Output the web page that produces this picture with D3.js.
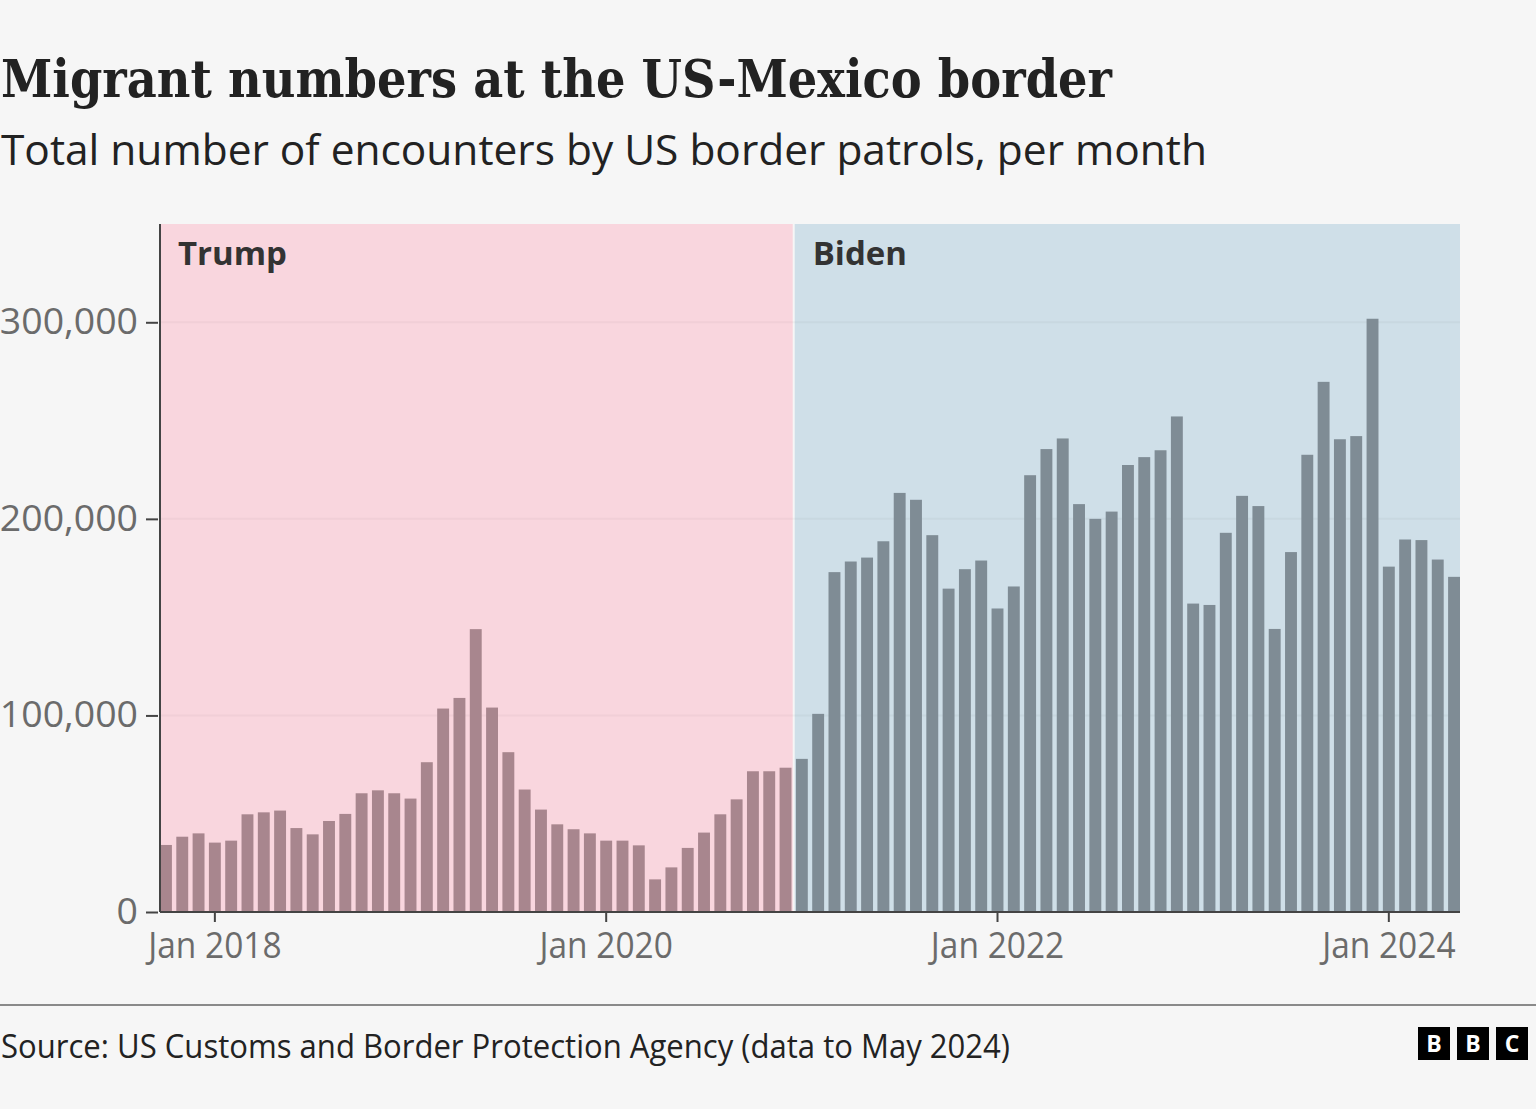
<!DOCTYPE html>
<html>
<head>
<meta charset="utf-8">
<script src="https://cdn.jsdelivr.net/npm/d3@7"></script>
<style>
  html, body { margin: 0; padding: 0; background: #f6f6f6; }
  svg { display: block; }
</style>
</head>
<body>
<svg id="chart" width="1536" height="1109"></svg>
<script>
// monthly encounters, Oct 2017 - May 2024
const months = d3.timeMonth.range(new Date(2017, 9, 1), new Date(2024, 5, 1));
const encounters = [
  34100, 38300, 40000,
  35300, 36300, 49700, 50700, 51600, 42700, 39500, 46300, 49900, 60400, 61900, 60400,
  57700, 76200, 103500, 108900, 143900, 104000, 81300, 62300, 52100, 44600, 42100, 40000,
  36300, 36300, 33900, 16600, 22700, 32600, 40400, 49700, 57300, 71600, 71600, 73400,
  77900, 100800, 172900, 178300, 180300, 188600, 213200, 209700, 191700, 164500, 174400, 178800,
  154400, 165600, 222200, 235500, 240900, 207500, 200000, 203700, 227400, 231400, 234900, 252100,
  156900, 156200, 192900, 211700, 206500, 144000, 183100, 232600, 269700, 240500, 242100, 301800,
  175700, 189500, 189200, 179300, 170500
];
const eraNames = ["Trump", "Biden"];
const eraStarts = [new Date(2017, 9, 1), new Date(2021, 0, 1)];
const yTicks = [0, 100000, 200000, 300000];
const xTicks = [new Date(2018, 0, 1), new Date(2020, 0, 1), new Date(2022, 0, 1), new Date(2024, 0, 1)];

const eraBg = { Trump: "#f9d6de", Biden: "#cfdfe8" };
const eraBar = { Trump: "#a8868e", Biden: "#7f8c95" };

const svg = d3.select("#chart");
const sans = "'Open Sans', 'Noto Sans', sans-serif";
const plotL = 160, plotR = 1460, plotT = 224, plotB = 912;

const data = months.map((m, i) => ({ month: m, value: encounters[i] }));
const eraOf = d => d >= eraStarts[1] ? "Biden" : "Trump";

const x = d3.scaleBand()
  .domain(months.map(d => +d))
  .range([plotL, plotR])
  .paddingInner(0.27)
  .paddingOuter(0);

const y = d3.scaleLinear().domain([0, 350000]).range([plotB, plotT]);

// squeeze text horizontally to mimic the condensed BBC Reith faces
function fitWidth(sel, w) {
  sel.attr("textLength", w).attr("lengthAdjust", "spacingAndGlyphs");
}
function squeeze(sel, k) {
  sel.each(function() {
    const len = this.getComputedTextLength();
    d3.select(this).attr("textLength", len * k).attr("lengthAdjust", "spacingAndGlyphs");
  });
}

// title block
svg.append("text")
  .attr("x", 1).attr("y", 97)
  .attr("font-family", "'DejaVu Serif', serif")
  .attr("font-weight", "bold")
  .attr("font-size", 52)
  .attr("fill", "#222")
  .text("Migrant numbers at the US-Mexico border")
  .call(fitWidth, 1111);

svg.append("text")
  .attr("x", 1).attr("y", 165)
  .attr("font-family", sans)
  .attr("font-size", 42)
  .attr("fill", "#222")
  .text("Total number of encounters by US border patrols, per month")
  .call(fitWidth, 1206);

// era backgrounds
const half = x.step() * x.paddingInner() / 2;
const boundary = x(+eraStarts[1]) - half;
const eraRects = [
  { name: eraNames[0], x0: plotL, x1: boundary - 1 },
  { name: eraNames[1], x0: boundary + 1, x1: plotR }
];
svg.append("g").selectAll("rect")
  .data(eraRects)
  .join("rect")
  .attr("x", d => d.x0)
  .attr("y", plotT)
  .attr("width", d => d.x1 - d.x0)
  .attr("height", plotB - plotT)
  .attr("fill", d => eraBg[d.name]);

// faint gridlines
svg.append("g").selectAll("line")
  .data(yTicks.filter(d => d > 0))
  .join("line")
  .attr("x1", plotL).attr("x2", plotR)
  .attr("y1", d => y(d)).attr("y2", d => y(d))
  .attr("stroke", "#000").attr("stroke-opacity", 0.03).attr("stroke-width", 2);

// era labels
svg.append("g").selectAll("text")
  .data(eraRects)
  .join("text")
  .attr("x", d => d.x0 + 18)
  .attr("y", 265)
  .attr("font-family", sans)
  .attr("font-weight", "bold")
  .attr("font-size", 32)
  .attr("fill", "#333")
  .text(d => d.name)
  .call(squeeze, 1.03);

// bars
svg.append("g").selectAll("rect")
  .data(data)
  .join("rect")
  .attr("x", d => x(+d.month))
  .attr("y", d => y(d.value))
  .attr("width", x.bandwidth())
  .attr("height", d => y(0) - y(d.value))
  .attr("fill", d => eraBar[eraOf(d.month)]);

// y axis
const yAxis = svg.append("g")
  .attr("transform", `translate(${plotL - 2},0)`)
  .call(d3.axisLeft(y).tickValues(yTicks).tickFormat(d3.format(",")).tickSize(12).tickPadding(8));
yAxis.select(".domain").remove();
yAxis.selectAll(".tick line").attr("stroke", "#444").attr("stroke-width", 2);
yAxis.selectAll(".tick text")
  .attr("font-family", sans).attr("font-size", 36).attr("fill", "#6b6b6b")
  .call(squeeze, 1.04);

// x axis
const xAxis = svg.append("g")
  .attr("transform", `translate(0,${plotB})`)
  .call(d3.axisBottom(x).tickValues(xTicks.map(d => +d))
    .tickFormat(d => d3.timeFormat("Jan %Y")(new Date(d))).tickSize(10).tickPadding(10));
xAxis.select(".domain").remove();
xAxis.selectAll(".tick line").attr("stroke", "#444").attr("stroke-width", 2);
xAxis.selectAll(".tick text")
  .attr("font-family", sans).attr("font-size", 36).attr("fill", "#6b6b6b")
  .call(squeeze, 0.93);

// axis lines
svg.append("line")
  .attr("x1", plotL).attr("x2", plotL).attr("y1", plotT).attr("y2", plotB)
  .attr("stroke", "#444").attr("stroke-width", 2);
svg.append("line")
  .attr("x1", plotL).attr("x2", plotR).attr("y1", plotB).attr("y2", plotB)
  .attr("stroke", "#444").attr("stroke-width", 2);

// footer
svg.append("line")
  .attr("x1", 0).attr("x2", 1536).attr("y1", 1005).attr("y2", 1005)
  .attr("stroke", "#8a8a8a").attr("stroke-width", 2);

svg.append("text")
  .attr("x", 1).attr("y", 1058)
  .attr("font-family", sans)
  .attr("font-size", 32)
  .attr("fill", "#222")
  .text("Source: US Customs and Border Protection Agency (data to May 2024)")
  .call(fitWidth, 1009);

const logo = svg.append("g").selectAll("g")
  .data(["B", "B", "C"])
  .join("g")
  .attr("transform", (d, i) => `translate(${1418 + i * 39},1027)`);
logo.append("rect").attr("width", 32).attr("height", 33).attr("fill", "#000");
logo.append("text")
  .attr("x", 16).attr("y", 25)
  .attr("text-anchor", "middle")
  .attr("font-family", sans)
  .attr("font-weight", "bold")
  .attr("font-size", 23)
  .attr("fill", "#fff")
  .text(d => d);
</script>
</body>
</html>
